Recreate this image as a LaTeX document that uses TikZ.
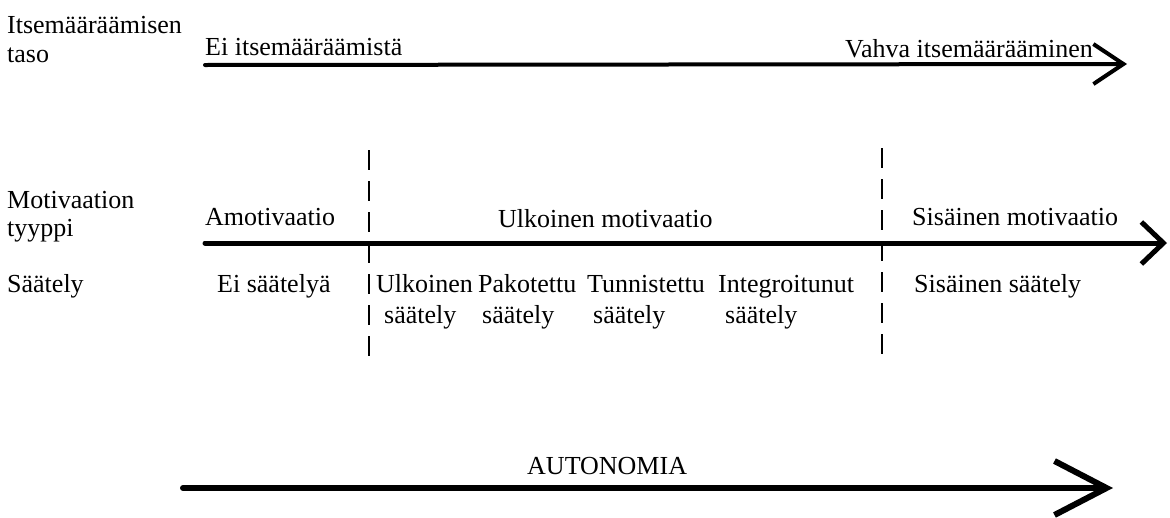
\documentclass[tikz,border=0pt]{standalone}
\usepackage{fontspec}
\setmainfont{Liberation Serif}
\usetikzlibrary{arrows.meta}
\begin{document}
\begin{tikzpicture}[x=1pt,y=-1pt,
  txt/.style={anchor=base west,inner sep=0pt,font=\fontsize{26}{29}\selectfont},
  axis/.style={line cap=round},
  divider/.style={line width=2pt,dash pattern=on 20pt off 11pt}]
\useasboundingbox (0,0) rectangle (1170,517);
% left labels
\node[txt] (l1a) at (7,33) {Itsemääräämisen};
\node[txt] (l1b) at (7,62) {taso};
\node[txt] (l2a) at (7,208) {Motivaation};
\node[txt] (l2b) at (7,236) {tyyppi};
\node[txt] (l3) at (7,292) {Säätely};
% top axis
\node[txt] (ei) at (205,55) {Ei itsemääräämistä};
\node[txt] (vahva) at (845,57) {Vahva itsemäärääminen};
\coordinate (t0) at (205,65);
\coordinate (t1) at (1127,64);
\draw[axis,line width=4pt,-{Straight Barb[length=30pt,width=40pt]}] (t0) -- (t1);
% dashed dividers
\coordinate (d1a) at (369,150);
\coordinate (d1b) at (369,367);
\coordinate (d2a) at (882,148);
\coordinate (d2b) at (882,365);
\draw[divider] (d1a) -- (d1b);
\draw[divider] (d2a) -- (d2b);
% middle axis
\node[txt] (amo) at (205,225) {Amotivaatio};
\node[txt] (ulkm) at (498,227) {Ulkoinen motivaatio};
\node[txt] (sism) at (912,225) {Sisäinen motivaatio};
\coordinate (m0) at (205,243);
\coordinate (m1) at (1167,243);
\draw[axis,line width=5pt,-{Straight Barb[length=22pt,width=42pt]}] (m0) -- (m1);
% regulation labels
\node[txt] (eis) at (217,292) {Ei säätelyä};
\node[txt] (ulk1) at (376,292) {Ulkoinen};
\node[txt] (ulk2) at (384,323) {säätely};
\node[txt] (pak1) at (478,292) {Pakotettu};
\node[txt] (pak2) at (482,323) {säätely};
\node[txt] (tun1) at (587,292) {Tunnistettu};
\node[txt] (tun2) at (593,323) {säätely};
\node[txt] (int1) at (718,292) {Integroitunut};
\node[txt] (int2) at (725,323) {säätely};
\node[txt] (siss) at (914,292) {Sisäinen säätely};
% bottom axis
\node[txt] (auto) at (527,474) {AUTONOMIA};
\coordinate (b0) at (183,488);
\coordinate (b1) at (1113,488);
\draw[axis,line width=6pt,-{Straight Barb[length=52pt,width=54pt]}] (b0) -- (b1);
\end{tikzpicture}
\end{document}
